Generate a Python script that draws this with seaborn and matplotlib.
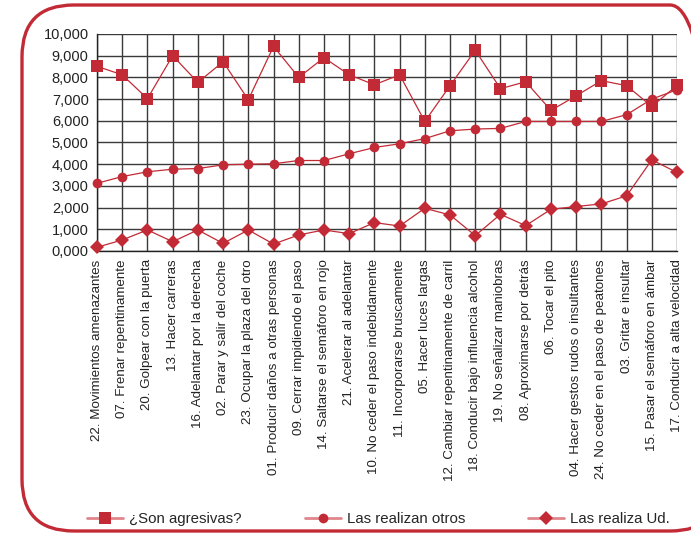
import matplotlib
matplotlib.use("Agg")
import matplotlib.pyplot as plt
import seaborn as sns
import pandas as pd
from matplotlib.lines import Line2D
from matplotlib.patches import FancyBboxPatch

# ---------------- data ----------------
categories = [
    "22. Movimientos amenazantes", "07. Frenar repentinamente", "20. Golpear con la puerta",
    "13. Hacer carreras", "16. Adelantar por la derecha", "02. Parar y salir del coche",
    "23. Ocupar la plaza del otro", "01. Producir daños a otras personas",
    "09. Cerrar impidiendo el paso", "14. Saltarse el semáforo en rojo",
    "21. Acelerar al adelantar", "10. No ceder el paso indebidamente",
    "11. Incorporarse bruscamente", "05. Hacer luces largas",
    "12. Cambiar repentinamente de carril", "18. Conducir bajo influencia alcohol",
    "19. No señalizar maniobras", "08. Aproximarse por detrás", "06. Tocar el pito",
    "04. Hacer gestos rudos o insultantes", "24. No ceder en el paso de peatones",
    "03. Gritar e insultar", "15. Pasar el semáforo en ámbar", "17. Conducir a alta velocidad",
]
son_agresivas = [8.51, 8.12, 7.02, 9.00, 7.77, 8.72, 6.97, 9.43, 8.00, 8.91, 8.12, 7.66,
                 8.12, 5.97, 7.62, 9.25, 7.48, 7.80, 6.48, 7.15, 7.85, 7.62, 6.66, 7.63]
realizan_otros = [3.12, 3.43, 3.65, 3.77, 3.80, 3.97, 4.00, 4.02, 4.17, 4.17, 4.48, 4.77,
                  4.94, 5.18, 5.54, 5.62, 5.65, 5.97, 5.97, 5.97, 5.97, 6.28, 7.00, 7.43]
realiza_ud = [0.17, 0.51, 0.97, 0.43, 0.97, 0.35, 0.97, 0.32, 0.74, 0.97, 0.80, 1.31,
              1.15, 1.97, 1.66, 0.71, 1.69, 1.17, 1.92, 2.05, 2.17, 2.54, 4.20, 3.62]
series_names = ["¿Son agresivas?", "Las realizan otros", "Las realiza Ud."]
y_ticks = list(range(0, 11))

df = pd.DataFrame({
    "cat": categories * 3,
    "pos": list(range(len(categories))) * 3,
    "val": [v * 1000 for v in son_agresivas + realizan_otros + realiza_ud],
    "serie": [s for s in series_names for _ in categories],
})

# ---------------- plot ----------------
sns.set_style("white")
plt.rcParams["font.family"] = ["Liberation Sans", "DejaVu Sans"]

red = "#c22b36"
markers = {"¿Son agresivas?": "s", "Las realizan otros": "o", "Las realiza Ud.": "D"}
msizes = {"¿Son agresivas?": 8.5, "Las realizan otros": 7, "Las realiza Ud.": 7}

fig = plt.figure(figsize=(6.91, 5.40), dpi=100)
ax = fig.add_axes([97 / 691, 1 - 251 / 540, (677 - 97) / 691, (251 - 34) / 540])

for name in series_names:
    sub = df[df["serie"] == name]
    sns.lineplot(data=sub, x="pos", y="val", ax=ax, color=red, lw=0.9,
                 marker=markers[name], markersize=msizes[name], markeredgewidth=0,
                 sort=False, clip_on=False, zorder=3)

ax.set_xlim(0, len(categories) - 1)
ax.set_ylim(0, 10000)
ax.set_xticks(range(len(categories)))
ax.set_xticklabels(categories, rotation=90, fontsize=9.6, color="#222")
ax.set_yticks([t * 1000 for t in y_ticks])
ax.set_yticklabels([f"{t},000" for t in y_ticks], fontsize=10.5, color="#222")
ax.tick_params(axis="both", direction="out", length=5, width=1, color="#333")
ax.tick_params(axis="x", pad=1)
ax.tick_params(axis="y", pad=1)
ax.grid(True, color="#3a3a3a", lw=1)
ax.set_axisbelow(True)
ax.set_xlabel("")
ax.set_ylabel("")
for s in ["top", "right"]:
    ax.spines[s].set_visible(False)
for s in ["left", "bottom"]:
    ax.spines[s].set_color("#222")
    ax.spines[s].set_linewidth(1)

handles = [Line2D([0], [0], color="#e0868c", lw=2, marker=markers[n], markersize=msizes[n],
                  markerfacecolor=red, markeredgewidth=0) for n in series_names]
fig.legend(handles, series_names, loc="center", bbox_to_anchor=(0.548, 1 - 519 / 540),
           ncol=3, frameon=False, fontsize=10.8, handlelength=2.4, columnspacing=4.2,
           handletextpad=0.4)

# rounded red frame
frame = FancyBboxPatch((22 / 691, 9 / 540), 700 / 691, 526 / 540,
                       boxstyle="round,pad=0,rounding_size=0.075",
                       transform=fig.transFigure, fill=False, ec=red, lw=2.4,
                       mutation_aspect=691 / 540)
fig.patches.append(frame)

fig.savefig("out.png", dpi=100)
